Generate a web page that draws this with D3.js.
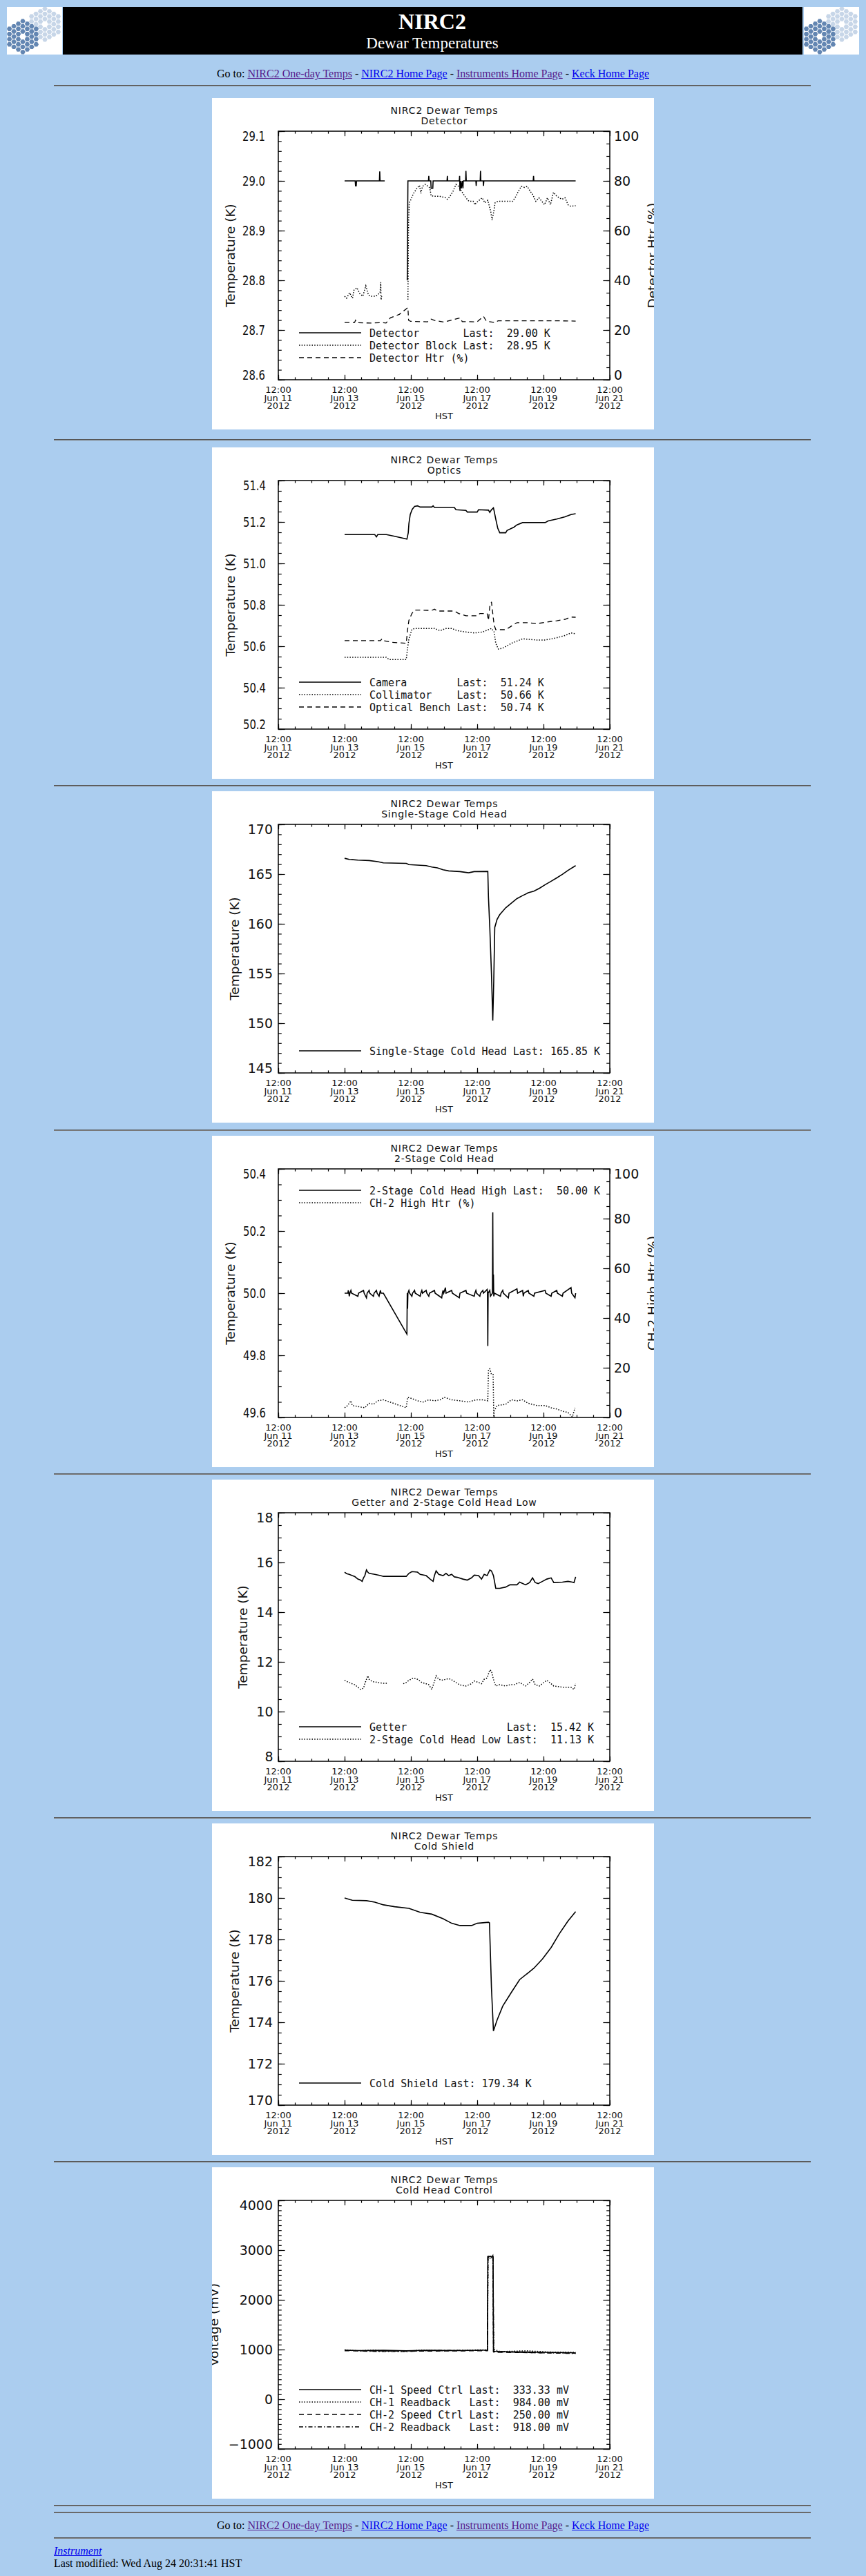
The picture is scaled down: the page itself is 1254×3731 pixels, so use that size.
<!DOCTYPE html>
<html>
<head>
<meta charset="utf-8">
<title>NIRC2 Dewar Temperatures</title>
<script src="https://cdn.jsdelivr.net/npm/d3@7"></script>
<style>
html, body { margin: 0; padding: 0; }
body { background: #abcdef; width: 1254px; height: 3731px; position: relative; overflow: hidden;
       font-family: "Liberation Serif", "Times New Roman", serif; font-size: 16px; color: #000; }
.hr { position: absolute; left: 78px; width: 1096px; height: 0; border-top: 1px solid #555; border-bottom: 1px solid #7d7d7d; }
.line { position: absolute; left: 0; width: 1254px; line-height: 20px; white-space: nowrap; }
.nav { text-align: center; }
a { text-decoration: underline; }
a.v { color: #551a8b; }
a.u { color: #0000ee; }
.panel { position: absolute; left: 307px; }
</style>
</head>
<body>
<svg id="banner" style="position:absolute;left:10px;top:10px" width="1234" height="69"></svg>
<div class="line nav" style="top:97px">Go to: <a class="v" href="#">NIRC2 One-day Temps</a> - <a class="u" href="#">NIRC2 Home Page</a> - <a class="v" href="#">Instruments Home Page</a> - <a class="u" href="#">Keck Home Page</a></div>

<div class="line nav" style="top:3648px">Go to: <a class="v" href="#">NIRC2 One-day Temps</a> - <a class="u" href="#">NIRC2 Home Page</a> - <a class="v" href="#">Instruments Home Page</a> - <a class="u" href="#">Keck Home Page</a></div>
<div class="line" style="top:3685px;left:78px"><a class="u" href="#"><i>Instrument</i></a></div>
<div class="line" style="top:3703px;left:78px">Last modified: Wed Aug 24 20:31:41 HST</div>

<script>
// ---- data: [days since Jun 11 2012 12:00 HST, value] ----
const detector = [[2.00,29.000],[2.32,29.000],[2.33,28.990],[2.35,28.990],[2.36,29.000],[3.05,29.000],[3.06,29.019],[3.07,29.000],[3.21,29.000],[3.5,null],
  [3.89,28.800],[3.91,29.000],[4.53,29.000],[4.54,29.010],[4.55,29.000],[4.60,29.000],[4.61,28.985],[4.66,28.985],[4.67,29.000],[5.09,29.000],[5.10,29.010],[5.11,29.000],
  [5.46,29.000],[5.47,29.010],[5.48,28.980],[5.50,29.000],[5.52,28.985],[5.55,29.000],[5.57,28.985],[5.58,29.000],[5.65,29.000],[5.66,29.020],[5.67,29.000],
  [5.96,29.000],[5.97,28.990],[5.98,29.000],[6.09,29.000],[6.10,29.020],[6.11,29.000],[6.18,29.000],[6.19,28.990],[6.20,29.000],[7.69,29.000],[7.70,29.010],[7.71,29.000],[8.97,29.000]];
const detectorBlock = [[2.00,28.768],[2.06,28.764],[2.15,28.775],[2.24,28.764],[2.28,28.780],[2.37,28.785],[2.46,28.773],[2.55,28.768],[2.64,28.789],[2.72,28.770],[2.81,28.768],
  [2.94,28.768],[3.07,28.775],[3.09,28.796],[3.10,28.761],[3.12,28.768],[3.5,null],[3.91,28.761],[3.93,28.917],[3.95,28.956],[3.99,28.961],[4.08,28.975],[4.17,28.984],
  [4.26,28.991],[4.30,28.975],[4.35,28.989],[4.43,28.993],[4.52,28.989],[4.57,28.986],[4.61,28.970],[4.70,28.969],[4.87,28.969],[5.05,28.966],[5.10,28.963],[5.18,28.969],
  [5.27,28.979],[5.36,28.993],[5.44,28.989],[5.53,28.979],[5.62,28.970],[5.66,28.966],[5.75,28.959],[5.88,28.959],[5.93,28.952],[5.97,28.956],[6.06,28.961],[6.15,28.966],
  [6.23,28.956],[6.32,28.961],[6.41,28.938],[6.45,28.921],[6.50,28.938],[6.54,28.956],[6.63,28.959],[7.07,28.959],[7.16,28.968],[7.24,28.979],[7.33,28.989],[7.42,28.987],
  [7.51,28.989],[7.60,28.979],[7.68,28.972],[7.77,28.959],[7.86,28.966],[7.95,28.959],[8.03,28.952],[8.12,28.966],[8.21,28.952],[8.30,28.977],[8.39,28.970],[8.47,28.966],
  [8.56,28.963],[8.65,28.966],[8.74,28.952],[8.82,28.949],[8.97,28.950]];
const detectorHtr = [[2.00,23.0],[2.30,23.0],[2.33,23.9],[2.36,23.0],[2.77,22.8],[3.12,23.0],[3.25,22.8],[3.38,24.9],[3.65,26.3],[3.87,28.6],[3.91,29.0],[3.93,23.9],
  [3.99,23.5],[4.50,23.3],[4.61,24.4],[4.70,23.9],[5.00,23.2],[5.48,24.9],[5.55,23.4],[6.00,23.3],[6.19,25.5],[6.28,23.5],[6.54,23.0],[6.63,23.7],[7.50,23.7],[8.50,23.7],[8.97,23.6]];

const camera = [[2.00,51.139],[2.40,51.139],[2.91,51.139],[2.96,51.128],[3.00,51.139],[3.26,51.139],[3.51,51.131],[3.88,51.117],[3.92,51.148],[3.94,51.192],[3.98,51.236],
  [4.04,51.261],[4.11,51.275],[4.20,51.278],[4.28,51.272],[4.63,51.272],[4.67,51.278],[4.71,51.270],[5.31,51.270],[5.36,51.259],[5.66,51.256],[5.70,51.248],[6.00,51.248],
  [6.04,51.259],[6.34,51.257],[6.38,51.246],[6.43,51.259],[6.49,51.268],[6.51,51.254],[6.56,51.214],[6.62,51.170],[6.68,51.148],[6.86,51.148],[6.90,51.159],[7.11,51.175],
  [7.20,51.186],[7.37,51.197],[8.05,51.197],[8.14,51.205],[8.40,51.214],[8.65,51.225],[8.83,51.236],[8.97,51.240]];
const collimator = [[2.00,50.547],[3.26,50.547],[3.34,50.536],[3.86,50.536],[3.90,50.591],[3.94,50.636],[4.03,50.680],[4.11,50.686],[4.46,50.686],[4.71,50.686],[4.88,50.675],
  [5.06,50.686],[5.23,50.686],[5.40,50.675],[5.66,50.669],[5.91,50.664],[6.17,50.669],[6.43,50.686],[6.51,50.669],[6.56,50.614],[6.64,50.586],[6.77,50.591],[7.03,50.614],
  [7.20,50.625],[7.37,50.636],[7.80,50.630],[8.05,50.630],[8.40,50.641],[8.65,50.652],[8.83,50.664],[8.97,50.660]];
const opticalBench = [[2.00,50.627],[3.08,50.627],[3.13,50.636],[3.17,50.627],[3.43,50.619],[3.86,50.614],[3.90,50.680],[3.94,50.725],[4.03,50.758],[4.11,50.775],[4.63,50.773],
  [4.71,50.779],[4.80,50.770],[5.31,50.770],[5.44,50.758],[5.66,50.747],[6.00,50.747],[6.08,50.758],[6.30,50.758],[6.34,50.725],[6.38,50.792],[6.43,50.814],[6.47,50.758],
  [6.51,50.703],[6.56,50.680],[6.86,50.680],[7.03,50.697],[7.20,50.714],[7.54,50.714],[7.80,50.709],[8.23,50.720],[8.40,50.723],[8.65,50.730],[8.83,50.741],[8.97,50.740]];

const singleStage = [[2.00,166.59],[2.14,166.48],[2.40,166.41],[2.74,166.36],[3.00,166.25],[3.17,166.13],[3.86,166.08],[3.94,165.95],[4.46,165.85],[4.63,165.71],[4.80,165.62],
  [4.97,165.44],[5.14,165.32],[5.48,165.25],[5.74,165.13],[5.91,165.25],[6.32,165.27],[6.34,162.66],[6.38,159.64],[6.43,155.01],[6.47,150.26],[6.50,154.31],[6.53,159.64],
  [6.60,160.45],[6.68,160.92],[6.86,161.61],[7.03,162.08],[7.20,162.54],[7.37,162.84],[7.54,163.12],[7.71,163.28],[7.88,163.58],[8.05,163.93],[8.23,164.28],[8.40,164.62],
  [8.57,164.97],[8.74,165.37],[8.97,165.85]];

const ch2High = [[2.00,50.0],[2.10,50.0],[2.11,50.009],[2.13,50.0],[2.14,49.99],[2.16,50.0],[2.19,50.009],[2.21,50.0],[2.40,49.99],[2.42,50.0],[2.57,50.009],[2.59,50.0],
  [2.66,49.985],[2.68,50.0],[2.74,50.009],[2.76,50.0],[2.87,49.99],[2.89,50.0],[2.96,50.009],[2.98,50.0],[3.04,49.99],[3.06,50.0],[3.08,50.009],[3.10,50.0],[3.17,50.0],
  [3.88,49.868],[3.89,50.0],[3.90,49.95],[3.91,50.0],[3.94,50.009],[3.96,50.0],[4.03,49.99],[4.05,50.0],[4.11,50.009],[4.13,50.0],[4.28,49.99],[4.30,50.0],[4.33,50.009],
  [4.35,50.0],[4.46,50.009],[4.48,50.0],[4.54,49.99],[4.56,50.0],[4.71,50.009],[4.73,50.0],[4.93,49.985],[4.95,50.0],[4.97,50.009],[4.99,50.0],[5.04,50.018],[5.06,50.0],
  [5.23,50.009],[5.25,50.0],[5.46,49.985],[5.48,50.0],[5.66,50.009],[5.68,50.0],[5.91,49.99],[5.93,50.0],[5.96,50.009],[5.98,50.0],[6.08,49.99],[6.10,50.0],[6.17,50.009],
  [6.19,50.0],[6.30,50.012],[6.31,50.0],[6.32,49.83],[6.33,50.0],[6.38,50.009],[6.40,49.99],[6.46,50.0],[6.47,50.26],[6.48,50.0],[6.49,50.06],[6.50,49.99],[6.52,50.0],
  [6.70,49.99],[6.72,50.0],[6.77,50.009],[6.79,50.0],[6.94,49.985],[6.96,50.0],[7.20,50.014],[7.22,50.0],[7.37,50.009],[7.39,49.99],[7.41,50.0],[7.54,50.009],[7.56,50.0],
  [7.71,49.99],[7.73,50.0],[8.05,50.009],[8.07,50.0],[8.23,49.99],[8.25,50.0],[8.40,50.009],[8.42,50.0],[8.57,49.99],[8.59,50.0],[8.83,50.018],[8.85,50.0],[8.95,49.985],[8.97,50.0]];
const ch2HighHtr = [[2.00,3.9],[2.06,4.4],[2.14,5.7],[2.19,6.7],[2.23,4.8],[2.40,4.4],[2.61,3.9],[2.74,5.7],[2.87,5.3],[3.00,6.7],[3.17,7.1],[3.86,3.9],[3.90,8.1],[4.03,7.6],
  [4.20,6.7],[4.37,6.2],[4.54,7.1],[4.71,6.7],[4.88,7.1],[5.01,8.1],[5.23,7.1],[5.48,6.7],[5.74,6.2],[5.96,7.1],[6.17,7.1],[6.32,6.7],[6.34,19.2],[6.38,19.6],[6.43,17.3],
  [6.48,17.3],[6.50,0.2],[6.51,2.5],[6.60,4.8],[6.86,5.3],[7.03,7.1],[7.20,6.7],[7.37,7.1],[7.54,5.7],[7.80,4.8],[8.05,4.8],[8.23,3.9],[8.40,3.4],[8.57,2.5],[8.74,2.0],
  [8.87,0.2],[8.95,3.9]];

const getter = [[2.00,15.61],[2.06,15.55],[2.14,15.52],[2.23,15.47],[2.31,15.43],[2.40,15.33],[2.48,15.29],[2.53,15.24],[2.57,15.38],[2.61,15.47],[2.66,15.70],[2.70,15.61],
  [2.74,15.56],[2.91,15.52],[3.08,15.47],[3.17,15.44],[3.86,15.44],[3.94,15.56],[4.03,15.63],[4.20,15.61],[4.28,15.52],[4.46,15.47],[4.58,15.33],[4.67,15.24],[4.71,15.47],
  [4.76,15.66],[4.84,15.52],[4.97,15.47],[5.06,15.56],[5.14,15.47],[5.23,15.52],[5.31,15.42],[5.40,15.40],[5.57,15.33],[5.70,15.29],[5.83,15.38],[5.91,15.49],[6.04,15.47],
  [6.13,15.33],[6.21,15.52],[6.30,15.47],[6.38,15.70],[6.43,15.66],[6.49,15.47],[6.56,14.96],[6.68,14.96],[6.86,15.01],[6.99,15.10],[7.20,15.10],[7.28,15.21],[7.46,15.10],
  [7.58,15.19],[7.67,15.38],[7.75,15.19],[7.84,15.15],[7.97,15.24],[8.10,15.33],[8.23,15.38],[8.31,15.19],[8.57,15.21],[8.74,15.24],[8.87,15.21],[8.92,15.19],[8.97,15.42]];
const coldHeadLow = [[2.00,11.26],[2.06,11.21],[2.14,11.17],[2.23,11.12],[2.31,11.08],[2.40,10.98],[2.48,10.89],[2.57,10.94],[2.61,11.12],[2.66,11.30],[2.70,11.44],[2.74,11.30],
  [2.83,11.21],[3.00,11.17],[3.17,11.14],[3.30,11.14],[3.5,null],[3.77,11.12],[3.86,11.17],[3.94,11.26],[4.07,11.35],[4.20,11.30],[4.33,11.17],[4.46,11.12],[4.54,11.08],
  [4.63,10.89],[4.71,11.21],[4.76,11.44],[4.84,11.30],[4.97,11.26],[5.06,11.31],[5.19,11.31],[5.31,11.21],[5.48,11.07],[5.66,11.03],[5.83,11.12],[5.91,11.23],[6.04,11.17],
  [6.13,11.12],[6.21,11.30],[6.30,11.35],[6.38,11.68],[6.43,11.63],[6.49,11.30],[6.56,11.03],[6.68,11.08],[6.86,11.03],[6.99,11.08],[7.11,11.08],[7.28,11.17],[7.46,11.03],
  [7.58,11.17],[7.67,11.31],[7.75,11.08],[7.88,11.03],[8.01,11.17],[8.10,11.26],[8.23,11.12],[8.31,11.03],[8.57,10.98],[8.83,10.98],[8.92,10.89],[8.97,11.13]];

const coldShield = [[2.00,180.00],[2.23,179.89],[2.66,179.87],[2.91,179.80],[3.17,179.67],[3.51,179.58],[3.94,179.50],[4.28,179.31],[4.63,179.22],[4.97,179.00],[5.23,178.78],
  [5.48,178.67],[5.83,178.67],[6.00,178.78],[6.34,178.83],[6.37,178.80],[6.43,175.67],[6.49,173.58],[6.60,174.11],[6.77,174.78],[7.03,175.44],[7.28,176.06],[7.54,176.39],
  [7.71,176.61],[7.97,177.06],[8.23,177.61],[8.48,178.28],[8.74,178.89],[8.97,179.34]];

const ch1Speed = [[2.00,985],[2.50,980],[3.17,985],[3.86,975],[4.50,985],[5.50,980],[6.31,990],[6.32,2870],[6.48,2870],[6.49,965],[7.00,955],[8.00,945],[8.97,935]];
const ch1Readback = [[2.00,995],[2.40,975],[2.90,990],[3.17,970],[3.86,965],[4.30,990],[5.00,975],[5.80,990],[6.31,995],[6.33,2890],[6.40,2820],[6.47,2890],[6.50,1000],
  [6.70,960],[7.50,975],[8.20,950],[8.97,945]];
const ch2Speed = [[2.00,975],[3.17,970],[3.86,965],[6.31,975],[6.33,2850],[6.48,2850],[6.50,945],[8.97,925]];
const ch2Readback = [[2.00,985],[2.70,965],[3.17,960],[3.86,960],[4.80,985],[6.31,980],[6.32,2880],[6.47,2880],[6.49,955],[7.50,940],[8.97,918]];

// ---- panel layout ----
const panelTops = [142, 648, 1146, 1645, 2143, 2641, 3139];
const hrTops = [123, 636, 1137, 1636, 2134, 2632, 3130, 3628, 3638, 3675];

const panels = [
  { sub: "Detector", dom: [28.6, 29.1], major: 0.1, minor: 0.02, fmt: ".1f", lblRight: 77, ytitle: "Temperature (K)", ytx: 33,
    y2: { dom: [0, 100], major: 20, minor: 5, title: "Detector Htr (%)" }, rows: [340, 358, 376],
    series: [
      { data: detector, dash: "solid", label: "Detector       Last:  29.00 K" },
      { data: detectorBlock, dash: "dot", label: "Detector Block Last:  28.95 K" },
      { data: detectorHtr, dash: "dash", axis2: true, label: "Detector Htr (%)" } ] },
  { sub: "Optics", dom: [50.2, 51.4], major: 0.2, minor: 0.05, fmt: ".1f", lblRight: 78, ytitle: "Temperature (K)", ytx: 33, rows: [340, 358, 376],
    series: [
      { data: camera, dash: "solid", label: "Camera        Last:  51.24 K" },
      { data: collimator, dash: "dot", label: "Collimator    Last:  50.66 K" },
      { data: opticalBench, dash: "dash", label: "Optical Bench Last:  50.74 K" } ] },
  { sub: "Single-Stage Cold Head", dom: [145, 170], major: 5, minor: 1, fmt: "d", lblRight: 88, ytitle: "Temperature (K)", ytx: 39, rows: [376],
    series: [ { data: singleStage, dash: "solid", label: "Single-Stage Cold Head Last: 165.85 K" } ] },
  { sub: "2-Stage Cold Head", dom: [49.6, 50.4], major: 0.2, minor: 0.05, fmt: ".1f", lblRight: 78, ytitle: "Temperature (K)", ytx: 33,
    y2: { dom: [0, 100], major: 20, minor: 5, title: "CH-2 High Htr (%)" }, rows: [79, 97],
    series: [
      { data: ch2High, dash: "solid", label: "2-Stage Cold Head High Last:  50.00 K" },
      { data: ch2HighHtr, dash: "dot", axis2: true, label: "CH-2 High Htr (%)" } ] },
  { sub: "Getter and 2-Stage Cold Head Low", dom: [8, 18], major: 2, minor: 0.5, fmt: "d", lblRight: 88.5, ytitle: "Temperature (K)", ytx: 51, rows: [358, 376],
    series: [
      { data: getter, dash: "solid", label: "Getter                Last:  15.42 K" },
      { data: coldHeadLow, dash: "dot", label: "2-Stage Cold Head Low Last:  11.13 K" } ] },
  { sub: "Cold Shield", dom: [170, 182], major: 2, minor: 0.5, fmt: "d", lblRight: 88, ytitle: "Temperature (K)", ytx: 39, rows: [376],
    series: [ { data: coldShield, dash: "solid", label: "Cold Shield Last: 179.34 K" } ] },
  { sub: "Cold Head Control", dom: [-1000, 4000], major: 1000, minor: 100, fmt: "d", lblRight: 88, ytitle: "Voltage (mV)", ytx: 9, rows: [322, 340, 358, 376],
    series: [
      { data: ch1Speed, dash: "solid", label: "CH-1 Speed Ctrl Last:  333.33 mV" },
      { data: ch1Readback, dash: "dot", label: "CH-1 Readback   Last:  984.00 mV" },
      { data: ch2Speed, dash: "dash", label: "CH-2 Speed Ctrl Last:  250.00 mV" },
      { data: ch2Readback, dash: "dashdot", label: "CH-2 Readback   Last:  918.00 mV" } ] }
];

const dashes = { solid: null, dot: "1.5,2.2", dash: "7,5", dashdot: "6,3,1.5,3" };
const widths = { solid: 1.6, dot: 1.5, dash: 1.3, dashdot: 1.3 };
const SANS = "DejaVu Sans, Verdana, sans-serif";
const MONO = "DejaVu Sans Mono, monospace";

// ---- time axis (shared) ----
const base = Date.UTC(2012, 5, 11, 12);
const toDate = t => new Date(base + t * 864e5);
const X0 = 96, X1 = 576, Y0 = 48, Y1 = 408;
const x = d3.scaleUtc().domain([toDate(0), toDate(10)]).range([X0, X1]);
const xMajor = d3.range(0, 10.001, 2).map(toDate);
const xMinor = d3.range(0, 10.001, 0.5).map(toDate);
const fmtDay = d3.utcFormat("%b %d");

// ---- banner ----
(function banner() {
  const svg = d3.select("#banner");
  const hexes = [];
  for (let q = -3; q <= 3; q++)
    for (let r = -3; r <= 3; r++) {
      const s = -q - r;
      if (Math.abs(s) > 3 || (q === 0 && r === 0)) continue;
      hexes.push([q, r]);
    }
  const size = 4.3, rad = 3.7;
  const hexPath = (cx, cy) => d3.range(6).map(i => {
    const a = Math.PI / 3 * i;
    return [cx + rad * Math.cos(a), cy + rad * Math.sin(a)];
  });
  function logo(ox) {
    const g = svg.append("g").attr("transform", `translate(${ox},0)`);
    g.append("rect").attr("width", 80).attr("height", 69).attr("fill", "#fff");
    [[55, 25, "#c7d6e8"], [23, 43, "#6386b2"]].forEach(([cx, cy, col]) => {
      g.selectAll(null).data(hexes).join("polygon")
        .attr("points", ([q, r]) => hexPath(cx + size * 1.5 * q, cy + size * Math.sqrt(3) * (r + q / 2)).join(" "))
        .attr("fill", col);
    });
  }
  logo(0);
  logo(1154);
  svg.append("rect").attr("x", 81).attr("width", 1071).attr("height", 69).attr("fill", "#000");
  svg.append("text").attr("x", 616).attr("y", 32).attr("text-anchor", "middle").attr("fill", "#fff")
    .style("font", "bold 32px 'Liberation Serif', serif").text("NIRC2");
  svg.append("text").attr("x", 616).attr("y", 60).attr("text-anchor", "middle").attr("fill", "#fff")
    .style("font", "23px 'Liberation Serif', serif").text("Dewar Temperatures");
})();

// ---- rules ----
d3.select("body").selectAll("div.hr").data(hrTops).join("div")
  .attr("class", "hr").style("top", d => d + "px");

// ---- panels ----
function addText(g, str, xx, yy, size, anchor, family) {
  return g.append("text").attr("x", xx).attr("y", yy).attr("text-anchor", anchor || "start")
    .attr("fill", "#111").style("font-family", family || SANS).style("font-size", size + "px")
    .style("white-space", "pre").text(str);
}

function drawPanel(p, top) {
  const svg = d3.select("body").append("svg").attr("class", "panel")
    .style("top", top + "px").attr("width", 640).attr("height", 480);
  svg.append("rect").attr("width", 640).attr("height", 480).attr("fill", "#fff");

  const y = d3.scaleLinear().domain(p.dom).range([Y1, Y0]);
  const y2 = p.y2 ? d3.scaleLinear().domain(p.y2.dom).range([Y1, Y0]) : null;
  const cx = (X0 + X1) / 2, cy = (Y0 + Y1) / 2;

  // titles
  [["NIRC2 Dewar Temps", 23], [p.sub, 37.5]].forEach(([s, by]) => {
    const t = addText(svg, s, cx, by, 14, "middle");
    const w = t.node().getComputedTextLength();
    t.attr("textLength", w * 1.1).attr("lengthAdjust", "spacing");
  });

  // axes (IDL style, ticks pointing inward on all four sides)
  const ax = svg.append("g").attr("stroke-width", 1.2);
  const strip = g => g.select(".domain").remove();
  ax.append("g").attr("transform", `translate(0,${Y1})`).call(d3.axisBottom(x).tickValues(xMajor).tickSize(-7.2).tickFormat("")).call(strip);
  ax.append("g").attr("transform", `translate(0,${Y1})`).call(d3.axisBottom(x).tickValues(xMinor).tickSize(-3.6).tickFormat("")).call(strip);
  ax.append("g").attr("transform", `translate(0,${Y0})`).call(d3.axisTop(x).tickValues(xMajor).tickSize(-7.2).tickFormat("")).call(strip);
  ax.append("g").attr("transform", `translate(0,${Y0})`).call(d3.axisTop(x).tickValues(xMinor).tickSize(-3.6).tickFormat("")).call(strip);

  const eps = 1e-9;
  const yMajor = d3.range(p.dom[0], p.dom[1] + p.major / 2, p.major).map(v => +v.toFixed(6));
  const yMinor = d3.range(p.dom[0], p.dom[1] + eps + p.minor / 2, p.minor).map(v => +v.toFixed(6));
  ax.append("g").attr("transform", `translate(${X0},0)`).call(d3.axisLeft(y).tickValues(yMajor).tickSize(-9.6).tickFormat("")).call(strip);
  ax.append("g").attr("transform", `translate(${X0},0)`).call(d3.axisLeft(y).tickValues(yMinor).tickSize(-4.8).tickFormat("")).call(strip);
  const rs = y2 || y;
  const rMajor = y2 ? d3.range(p.y2.dom[0], p.y2.dom[1] + 1, p.y2.major) : yMajor;
  const rMinor = y2 ? d3.range(p.y2.dom[0], p.y2.dom[1] + 1, p.y2.minor) : yMinor;
  ax.append("g").attr("transform", `translate(${X1},0)`).call(d3.axisRight(rs).tickValues(rMajor).tickSize(-9.6).tickFormat("")).call(strip);
  ax.append("g").attr("transform", `translate(${X1},0)`).call(d3.axisRight(rs).tickValues(rMinor).tickSize(-4.8).tickFormat("")).call(strip);
  ax.selectAll("line").attr("stroke", "#000");
  svg.append("rect").attr("x", X0).attr("y", Y0).attr("width", X1 - X0).attr("height", Y1 - Y0)
    .attr("fill", "none").attr("stroke", "#000").attr("stroke-width", 1.5);

  // x labels
  const clampY = v => Math.max(Y0 + 7, Math.min(Y1 - 7, v));
  xMajor.forEach(d => {
    const xx = x(d);
    addText(svg, d3.utcFormat("%H:%M")(d), xx, 427, 13, "middle");
    addText(svg, fmtDay(d), xx, 438.5, 13, "middle");
    addText(svg, d3.utcFormat("%Y")(d), xx, 450, 13, "middle");
  });
  addText(svg, "HST", cx, 465, 13, "middle");

  // y labels
  const f = d3.format(p.fmt);
  yMajor.forEach(v => {
    const t = addText(svg, f(v), p.lblRight, clampY(y(v)) + 7, 19, "end");
    if (p.fmt.indexOf(".") >= 0) t.attr("textLength", 33).attr("lengthAdjust", "spacingAndGlyphs");
  });
  svg.append("text").attr("transform", `translate(${p.ytx},${cy}) rotate(-90)`).attr("text-anchor", "middle")
    .attr("fill", "#111").style("font-family", SANS).style("font-size", "18.5px").text(p.ytitle);
  if (y2) {
    rMajor.forEach(v => addText(svg, String(v), 582, clampY(y2(v)) + 7, 19, "start"));
    svg.append("text").attr("transform", `translate(644,${cy}) rotate(-90)`).attr("text-anchor", "middle")
      .attr("fill", "#111").style("font-family", SANS).style("font-size", "18.5px").text(p.y2.title);
  }

  // data lines
  const plot = svg.append("g");
  p.series.forEach(s => {
    const sy = s.axis2 ? y2 : y;
    const line = d3.line().defined(d => d[1] !== null).x(d => x(toDate(d[0]))).y(d => sy(d[1]));
    plot.append("path").datum(s.data).attr("d", line).attr("fill", "none").attr("stroke", "#000")
      .attr("stroke-width", widths[s.dash]).attr("stroke-dasharray", dashes[s.dash]);
  });

  // legend
  p.series.forEach((s, i) => {
    const ry = p.rows[i];
    svg.append("line").attr("x1", 126).attr("x2", 216).attr("y1", ry).attr("y2", ry)
      .attr("stroke", "#000").attr("stroke-width", widths[s.dash]).attr("stroke-dasharray", dashes[s.dash]);
    addText(svg, s.label, 228, ry + 5.5, 15, "start", MONO);
  });
}

panels.forEach((p, i) => drawPanel(p, panelTops[i]));
</script>
</body>
</html>
